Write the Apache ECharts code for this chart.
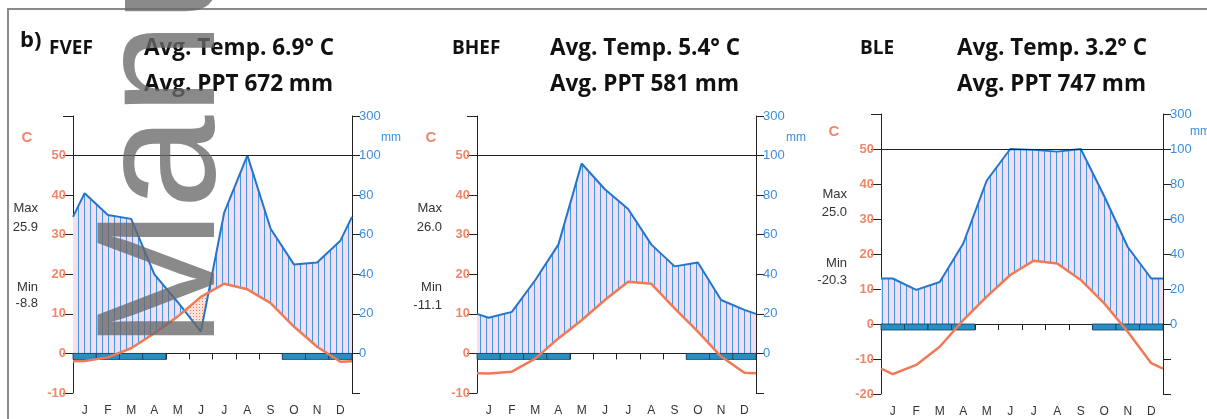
<!DOCTYPE html>
<html><head><meta charset="utf-8">
<script src="https://cdn.jsdelivr.net/npm/echarts@6/dist/echarts.min.js"></script>
<style>html,body{margin:0;padding:0;background:#fff}#c{width:1207px;height:419px}</style>
</head><body><div id="c"></div>
<script>
// ---------- data ----------
const months = ['J','F','M','A','M','J','J','A','S','O','N','D'];
const stations = ['FVEF','BHEF','BLE'];
const avgTemp = ['6.9','5.4','3.2'];
const avgPPT = ['672','581','747'];
const maxTemp = ['25.9','26.0','25.0'];
const minTemp = ['-8.8','-11.1','-20.3'];
// monthly precipitation (mm)
const precipFVEF = [81, 70, 68, 40, 26, 11, 71, 101, 63, 45, 46, 57];
const precipBHEF = [18, 21, 37, 55, 96, 83, 73, 55, 44, 46, 27, 22];
const precipBLE  = [26, 19.5, 24, 46, 82, 100, 99.5, 98.5, 100, 73, 44, 26];
// monthly mean temperature (deg C)
const tempFVEF = [-1.9, -1.0, 1.3, 5.1, 9.3, 14.3, 17.6, 16.2, 12.7, 6.8, 1.7, -2.1];
const tempBHEF = [-5.1, -4.6, -1.3, 3.8, 8.4, 13.5, 18.1, 17.6, 11.4, 5.5, -0.8, -4.9];
const tempBLE  = [-14.3, -11.7, -6.5, 1.1, 7.8, 14.0, 18.1, 17.3, 12.6, 5.9, -2.2, -11.2];
// frost months (1 = frost bar)
const frostFVEF = [1,1,1,1,0,0,0,0,0,1,1,1];
const frostBHEF = [1,1,1,1,0,0,0,0,0,1,1,1];
const frostBLE  = [1,1,1,1,0,0,0,0,0,1,1,1];
// axis ranges (deg C scale)
const tempMin = [-10, -10, -20];
const tempMax = 60;

// ---------- helpers ----------
const chart = echarts.init(document.getElementById('c'), null, {renderer:'canvas'});
function makePattern(w,h,bg,draw){const c=document.createElement('canvas');c.width=w;c.height=h;const g=c.getContext('2d');if(bg){g.fillStyle=bg;g.fillRect(0,0,w,h);}draw(g);return c;}
const hatchCanvas = makePattern(6,6,'#f6dcec',g=>{g.fillStyle='#3a9ae2';g.fillRect(0,0,1,6);});
const dotCanvas = makePattern(3,3,'rgba(248,200,180,0.55)',g=>{g.fillStyle='#ec8460';g.fillRect(1,1,1,1);});
// Walter-Lieth precipitation scale: 20 mm = 10 C up to 100 mm, compressed above
function scaleP(p){return p<=100 ? p/2 : 50 + (p-100)/20;}
// curve with wrap-around edges (diagram convention: edge = mean of Dec and Jan)
function curve(vals){
  const e=(vals[0]+vals[11])/2;
  const pts=[[0,e]];
  vals.forEach((v,i)=>pts.push([i+0.5,v]));
  pts.push([12,e]);
  return pts;
}

const panels = [
  {p:precipFVEF,t:tempFVEF,f:frostFVEF,grid:{left:73,top:116,width:279,height:277}},
  {p:precipBHEF,t:tempBHEF,f:frostBHEF,grid:{left:477,top:116,width:279,height:277}},
  {p:precipBLE ,t:tempBLE ,f:frostBLE ,grid:{left:881,top:114,width:282,height:280}}
];

const grids=[],xAxes=[],yAxes=[],series=[];
panels.forEach((pn,k)=>{
  grids.push(pn.grid);
  const min = tempMin[k];
  xAxes.push({gridIndex:k,type:'value',min:0,max:12,show:false,axisLine:{onZero:false}});
  xAxes.push({gridIndex:k,type:'category',data:months,position:'bottom',
    axisLine:{show:true,onZero:true,lineStyle:{color:'#222',width:1}},
    axisTick:{show:true,length:6,lineStyle:{color:'#222'}},axisLabel:{show:false},splitLine:{show:false}});
  xAxes.push({gridIndex:k,type:'category',data:months,position:'bottom',
    axisLine:{show:false,onZero:false},axisTick:{show:false},
    axisLabel:{interval:0,margin:12,color:'#333',fontSize:12,fontFamily:'Liberation Sans'}});
  yAxes.push({gridIndex:k,type:'value',position:'left',min:min,max:tempMax,interval:10,
    axisLine:{show:true,onZero:false,lineStyle:{color:'#222'}},
    axisTick:{show:true,length:10,lineStyle:{color:'#222'}},splitLine:{show:false},
    axisLabel:{margin:7,color:'#f0876a',fontSize:13,fontWeight:'bold',fontFamily:'Liberation Sans',
      formatter:v=>v>=60?'':String(v)}});
  yAxes.push({gridIndex:k,type:'value',position:'right',min:min,max:tempMax,interval:10,
    axisLine:{show:true,onZero:false,lineStyle:{color:'#222'}},
    axisTick:{show:true,length:8,lineStyle:{color:'#222'}},splitLine:{show:false},
    axisLabel:{margin:7,color:'#3a8fe0',fontSize:13,fontFamily:'Liberation Sans',
      formatter:v=>v<0?'':(v>=60?'300':String(v*2))}});

  const pc = curve(pn.p.map(scaleP));
  const tc = curve(pn.t);
  // hatched humid area and dotted dry area
  series.push({type:'custom',xAxisIndex:3*k,yAxisIndex:2*k,z:1,silent:true,clip:true,
    data:[[0,0]],
    renderItem:function(params,api){
      const top=[],bot=[],dTop=[],dBot=[];
      const S=30;
      for(let i=0;i<pc.length-1;i++){
        for(let s=(i===0?0:1);s<=S;s++){
          const f=s/S;
          const x=pc[i][0]+(pc[i+1][0]-pc[i][0])*f;
          const p=pc[i][1]+(pc[i+1][1]-pc[i][1])*f;
          const t=tc[i][1]+(tc[i+1][1]-tc[i][1])*f;
          const L=Math.max(t,0);
          top.push(api.coord([x,Math.max(p,L)]));
          bot.push(api.coord([x,L]));
          dTop.push(api.coord([x,Math.max(t,p)]));
          dBot.push(api.coord([x,p]));
        }
      }
      return {type:'group',children:[
        {type:'polygon',shape:{points:top.concat(bot.reverse())},style:{fill:{image:hatchCanvas,repeat:'repeat'}}},
        {type:'polygon',shape:{points:dTop.concat(dBot.reverse())},style:{fill:{image:dotCanvas,repeat:'repeat'}}}
      ]};
    }});
  // frost bars
  series.push({type:'custom',xAxisIndex:3*k,yAxisIndex:2*k,z:3,silent:true,
    data:pn.f.map((v,i)=>[i,v]),
    renderItem:function(params,api){
      if(!api.value(1)) return null;
      const i=api.value(0);
      const a=api.coord([i,0]),b=api.coord([i+1,0]);
      return {type:'rect',shape:{x:a[0],y:a[1],width:b[0]-a[0],height:6},
        style:{fill:'#2690c4',stroke:'#1b3d55',lineWidth:0.8}};
    }});
  // precipitation line
  series.push({type:'line',xAxisIndex:3*k,yAxisIndex:2*k,z:4,silent:true,data:pc,symbol:'none',
    lineStyle:{color:'#2574cc',width:2},
    markLine:{silent:true,symbol:['none','none'],label:{show:false},
      lineStyle:{color:'#222',width:1,type:'solid'},data:[{yAxis:50}]}});
  // temperature line
  series.push({type:'line',xAxisIndex:3*k,yAxisIndex:2*k,z:5,silent:true,data:tc,symbol:'none',
    lineStyle:{color:'#f07a55',width:2.5}});
});

// ---------- annotations ----------
const F='"Open Sans", "Liberation Sans", sans-serif';
function txt(x,y,text,font,fill,align){
  return {type:'text',x:x,y:y,z:10,silent:true,
    style:{text:text,font:font,fill:fill,align:align||'left',verticalAlign:'middle',
      textAlign:align||'left',textVerticalAlign:'middle'}};
}
const headX=[[49,144],[452,550],[860,957]];
const statX=[38,442,847];
const statY=[[208,227,287,303],[208,227,287,305],[194,212,263,280]];
const cPos=[[27,138],[431,138],[834,132]];
const mmPos=[[391,138],[796,138],[1200,132]];
const graphics=[
  {type:'rect',silent:true,z:0,shape:{x:8,y:9,width:1250,height:450},style:{fill:'none',stroke:'#8a8a8a',lineWidth:2}},
  txt(20,41,'b)','bold 22px '+F,'#111')
];
stations.forEach((s,k)=>{
  graphics.push(txt(headX[k][0],49,s,'bold 19px '+F,'#111'));
  graphics.push(txt(headX[k][1],49,'Avg. Temp. '+avgTemp[k]+'° C','bold 22.5px '+F,'#111'));
  graphics.push(txt(headX[k][1],85,'Avg. PPT '+avgPPT[k]+' mm','bold 22.5px '+F,'#111'));
  graphics.push(txt(statX[k],statY[k][0],'Max','13px "Liberation Sans"','#333','right'));
  graphics.push(txt(statX[k],statY[k][1],maxTemp[k],'13px "Liberation Sans"','#333','right'));
  graphics.push(txt(statX[k],statY[k][2],'Min','13px "Liberation Sans"','#333','right'));
  graphics.push(txt(statX[k],statY[k][3],minTemp[k],'13px "Liberation Sans"','#333','right'));
  graphics.push(txt(cPos[k][0],cPos[k][1],'C','bold 15px "Liberation Sans"','#f0876a','center'));
  graphics.push(txt(mmPos[k][0],mmPos[k][1],'mm','12px "Liberation Sans"','#3a8fe0','center'));
});
// watermark
graphics.push({type:'text',x:168,y:349,rotation:Math.PI/2,z:20,silent:true,
  style:{text:'Manuscript',font:'168px "Liberation Sans"',fill:'rgba(105,105,105,0.78)',
    align:'left',verticalAlign:'middle',textAlign:'left',textVerticalAlign:'middle'}});

chart.setOption({
  animation:false,
  backgroundColor:'#fff',
  grid:grids,xAxis:xAxes,yAxis:yAxes,series:series,graphic:graphics
});
</script></body></html>
